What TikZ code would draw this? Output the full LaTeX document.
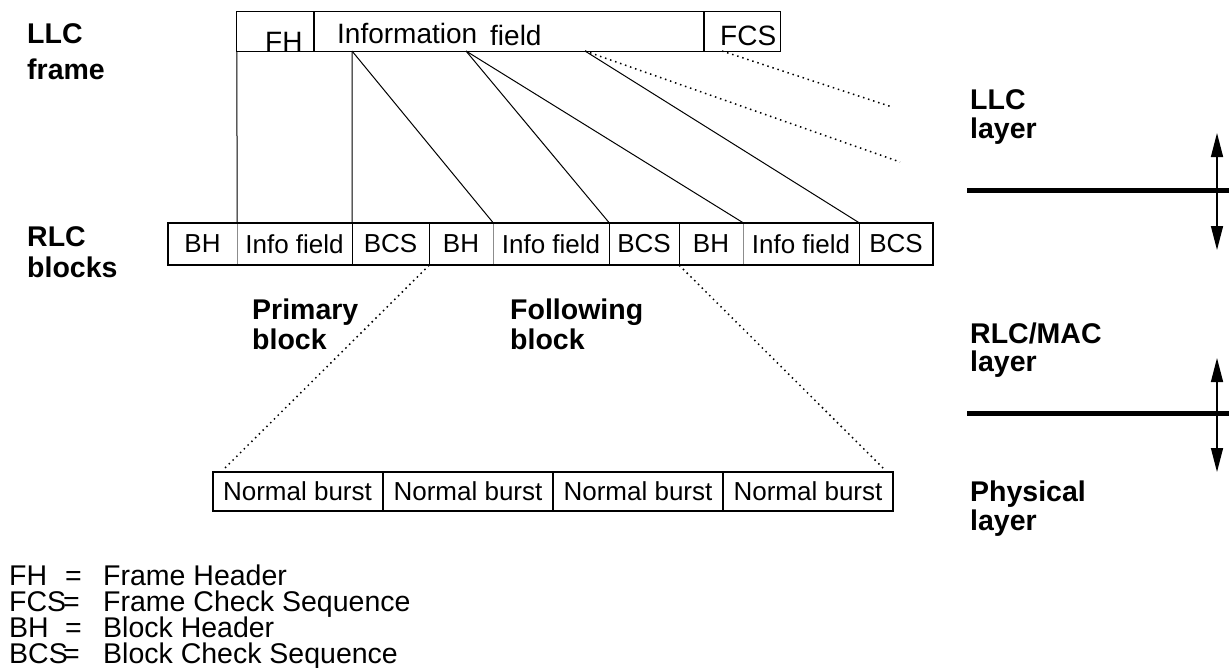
\documentclass[tikz,border=0pt]{standalone}
\usepackage{fontspec}
\setmainfont{Liberation Sans}
\usetikzlibrary{arrows.meta}
\newcommand\cellfont{\fontsize{26}{26}\selectfont}
\newcommand\framefont{\fontsize{28}{28}\selectfont}
\newcommand\blab[1]{{\fontsize{28.5}{28.5}\selectfont\bfseries #1}}
\newcommand\legtxt[1]{{\fontsize{28.5}{28.5}\selectfont #1}}
\begin{document}
\begin{tikzpicture}[x=1pt,y=-1pt,
  cell/.style={inner sep=0pt,minimum height=42pt,font=\cellfont},
  burst/.style={draw,line width=2pt,inner sep=0pt,minimum height=39pt,minimum width=170pt,font=\cellfont},
  fcell/.style={inner sep=0pt,minimum height=39pt},
  thinline/.style={line width=1pt},
  divline/.style={line width=1.2pt},
  greydiv/.style={line width=1.2pt,draw=black!45},
  dotline/.style={line width=1.5pt,dash pattern=on 1.5pt off 3.8pt},
  layerline/.style={line width=5pt},
  updown/.style={line width=1.5pt,{Triangle[length=24pt,width=12pt]}-{Triangle[length=24pt,width=12pt]}},
  lab/.style={anchor=base west,inner sep=0pt},
]
\useasboundingbox (0,0) rectangle (1229,667);
\fill[white] (0,0) rectangle (1229,667);

% LLC frame
\node[fcell,minimum width=77pt] (fh) at (275.5,31.5) {};
\node[fcell,minimum width=390pt] (info) at (509,31.5) {};
\node[fcell,minimum width=76pt] (fcs) at (742,31.5) {};
\draw[line width=1pt] (fh.north west) rectangle (fcs.south east);
\draw[line width=2pt] (fh.north east) -- (fh.south east);
\draw[line width=2pt] (fcs.north west) -- (fcs.south west);
\node[lab,font=\framefont] (tfh) at (265,51) {FH};
\node[lab,font=\framefont] (tinf) at (337,43) {Information};
\node[lab,font=\framefont] (tfld) at (490,45) {field};
\node[lab,font=\framefont] (tfcs) at (720,45) {FCS};

% RLC blocks
\node[cell,minimum width=69pt]  (bh1)  at (202.5,244) {BH};
\node[cell,minimum width=115pt] (if1)  at (294.5,244) {Info field};
\node[cell,minimum width=77pt]  (bcs1) at (390.5,244) {BCS};
\node[cell,minimum width=64pt]  (bh2)  at (461,244) {BH};
\node[cell,minimum width=116pt] (if2)  at (551,244) {Info field};
\node[cell,minimum width=70pt]  (bcs2) at (644,244) {BCS};
\node[cell,minimum width=64pt]  (bh3)  at (711,244) {BH};
\node[cell,minimum width=116pt] (if3)  at (801,244) {Info field};
\node[cell,minimum width=74pt]  (bcs3) at (896,244) {BCS};
\draw[greydiv] (bh1.north east) -- (bh1.south east);
\draw[divline] (if1.north east) -- (if1.south east);
\draw[divline] (bcs1.north east) -- (bcs1.south east);
\draw[greydiv] (bh2.north east) -- (bh2.south east);
\draw[divline] (if2.north east) -- (if2.south east);
\draw[divline] (bcs2.north east) -- (bcs2.south east);
\draw[greydiv] (bh3.north east) -- (bh3.south east);
\draw[divline] (if3.north east) -- (if3.south east);
\draw[line width=2pt] (bh1.north west) rectangle (bcs3.south east);

% Normal bursts
\node[burst] (nb1) at (297.5,491.5) {Normal burst};
\node[burst] (nb2) at (468,491.5) {Normal burst};
\node[burst] (nb3) at (638,491.5) {Normal burst};
\node[burst] (nb4) at (808,491.5) {Normal burst};

% origins and free ends
\coordinate (o2) at (352,51);
\coordinate (o3) at (466,51);
\coordinate (o4) at (585,51);
\coordinate (o5) at (722,51);
\coordinate (e1) at (900,162);
\coordinate (e2) at (892,107);
\coordinate (e3) at (223,470);
\coordinate (e4) at (883,468);

% connectors
\draw[thinline] (fh.south west) -- (bh1.north east);
\draw[thinline] (o2) -- (if1.north east);
\draw[thinline] (o2) -- (bh2.north east);
\draw[thinline] (o3) -- (if2.north east);
\draw[thinline] (o3) -- (bh3.north east);
\draw[thinline] (o4) -- (if3.north east);
\draw[dotline] (o4) -- (e1);
\draw[dotline] (o5) -- (e2);
\draw[dotline] (bcs1.south east) -- (e3);
\draw[dotline] (bcs2.south east) -- (e4);

% layer separators
\coordinate (s1a) at (967,190);
\coordinate (s1b) at (1229,190);
\coordinate (s2a) at (967,413);
\coordinate (s2b) at (1229,413);
\draw[layerline] (s1a) -- (s1b);
\draw[layerline] (s2a) -- (s2b);
\coordinate (a1t) at (1217,133);
\coordinate (a1b) at (1217,250);
\coordinate (a2t) at (1217,358);
\coordinate (a2b) at (1217,472);
\draw[updown] (a1t) -- (a1b);
\draw[updown] (a2t) -- (a2b);

% bold labels
\node[lab] (l1) at (27,43) {\blab{LLC}};
\node[lab] (l2) at (27,79) {\blab{frame}};
\node[lab] (l3) at (27,246) {\blab{RLC}};
\node[lab] (l4) at (27,277) {\blab{blocks}};
\node[lab] (l5) at (252,319) {\blab{Primary}};
\node[lab] (l6) at (252,349) {\blab{block}};
\node[lab] (l7) at (510,319) {\blab{Following}};
\node[lab] (l8) at (510,349) {\blab{block}};
\node[lab] (l9) at (970,109) {\blab{LLC}};
\node[lab] (l10) at (970,138) {\blab{layer}};
\node[lab] (l11) at (970,343) {\blab{RLC/MAC}};
\node[lab] (l12) at (970,371) {\blab{layer}};
\node[lab] (l13) at (970,501) {\blab{Physical}};
\node[lab] (l14) at (970,530) {\blab{layer}};

% legend
\node[lab] (g1a) at (9,585) {\legtxt{FH}};
\node[lab] (g1b) at (65,585) {\legtxt{=}};
\node[lab] (g1c) at (103,585) {\legtxt{Frame Header}};
\node[lab] (g2a) at (9,611) {\legtxt{FCS}};
\node[lab] (g2b) at (63,611) {\legtxt{=}};
\node[lab] (g2c) at (103,611) {\legtxt{Frame Check Sequence}};
\node[lab] (g3a) at (9,637) {\legtxt{BH}};
\node[lab] (g3b) at (65,637) {\legtxt{=}};
\node[lab] (g3c) at (103,637) {\legtxt{Block Header}};
\node[lab] (g4a) at (9,663) {\legtxt{BCS}};
\node[lab] (g4b) at (63,663) {\legtxt{=}};
\node[lab] (g4c) at (103,663) {\legtxt{Block Check Sequence}};
\end{tikzpicture}
\end{document}
